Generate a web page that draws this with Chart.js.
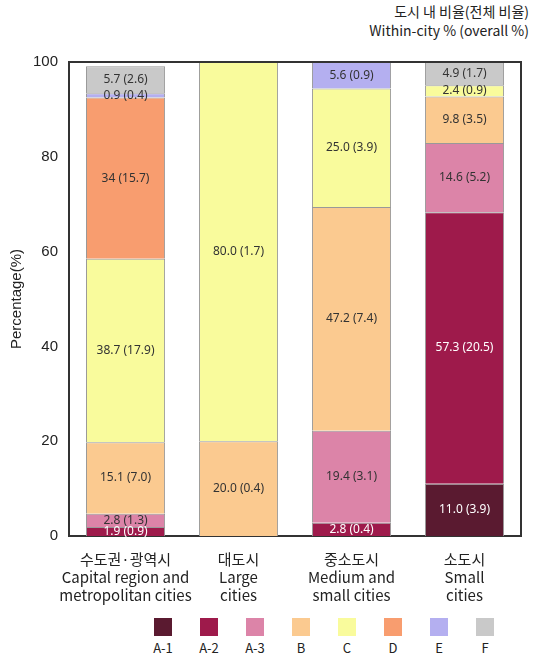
<!DOCTYPE html>
<html><head><meta charset="utf-8">
<script src="https://cdn.jsdelivr.net/npm/chart.js@4"></script>
<style>
body{margin:0;background:#fff;font-family:'Noto Sans CJK KR','Noto Sans',sans-serif;}
#wrap{position:absolute;left:0;top:50px;width:535px;height:560px;}
#title{position:absolute;right:6px;top:2px;text-align:right;font-size:14px;line-height:19px;color:#222;}
#legend{position:absolute;left:140px;top:618px;display:flex;}
.li{width:46px;text-align:center;font-size:13px;color:#222;}
.sw{width:18px;height:18px;margin:0 auto 2px;}
</style></head><body>
<div id="title">도시 내 비율(전체 비율)<br>Within-city % (overall %)</div>
<div id="wrap"><canvas id="c"></canvas></div>
<div id="legend"></div>
<script>
const categories = [
  ['수도권·광역시','Capital region and','metropolitan cities'],
  ['대도시','Large','cities'],
  ['중소도시','Medium and','small cities'],
  ['소도시','Small','cities']
];
const seriesNames = ['A-1','A-2','A-3','B','C','D','E','F'];
const colors = ['#5a1a30','#9e1a4b','#dc84a8','#fbca90','#f9fb9c','#f89d6f','#b4aff0','#c9c9c9'];
const a1 = [0, 0, 0, 11.0];
const a2 = [1.9, 0, 2.8, 57.3];
const a3 = [2.8, 0, 19.4, 14.6];
const b  = [15.1, 20.0, 47.2, 9.8];
const c  = [38.7, 80.0, 25.0, 2.4];
const d  = [34, 0, 0, 0];
const e  = [0.9, 0, 5.6, 0];
const f  = [5.7, 0, 0, 4.9];
const overall = [
  [null,null,null,'3.9'],
  ['0.9',null,'0.4','20.5'],
  ['1.3',null,'3.1','5.2'],
  ['7.0','0.4','7.4','3.5'],
  ['17.9','1.7','3.9','0.9'],
  ['15.7',null,null,null],
  ['0.4',null,'0.9',null],
  ['2.6',null,null,'1.7']
];
const yTicks = [0,20,40,60,80,100];
const series = [a1,a2,a3,b,c,d,e,f];

const labelPlugin = {
  id:'segLabels',
  afterDatasetsDraw(chart){
    const ctx = chart.ctx;
    ctx.save();
    ctx.font = "12px 'Noto Sans','Noto Sans CJK KR',sans-serif";
    ctx.textAlign='center'; ctx.textBaseline='middle';
    chart.data.datasets.forEach((ds,i)=>{
      chart.getDatasetMeta(i).data.forEach((bar,j)=>{
        const v = ds.data[j];
        if(!v) return;
        const txt = (i===5 ? String(v) : v.toFixed(1)) + ' (' + overall[i][j] + ')';
        ctx.fillStyle = (i<=1) ? '#fff' : '#333';
        ctx.fillText(txt, bar.x, (bar.y+bar.base)/2);
      });
    });
    ctx.restore();
  }
};

new Chart(document.getElementById('c'), {
  type:'bar',
  data:{
    labels:categories,
    datasets: series.map((s,i)=>({
      label:seriesNames[i], data:s, backgroundColor:colors[i],
      borderColor:'#999', borderWidth:1, categoryPercentage:0.7, barPercentage:1
    }))
  },
  options:{
    responsive:true, maintainAspectRatio:false, animation:false,
    layout:{padding:{left:4,right:14,top:10}},
    plugins:{legend:{display:false}, tooltip:{enabled:false}},
    scales:{
      x:{stacked:true, grid:{display:false}, border:{color:'#333',width:2},
        ticks:{color:'#222', autoSkip:false, font:{size:15, family:"'Noto Sans CJK KR','Noto Sans',sans-serif"}, maxRotation:0, padding:6}},
      y:{stacked:true, min:0, max:100, grid:{display:false}, border:{color:'#333',width:2},
        afterBuildTicks: ax => { ax.ticks = yTicks.map(v=>({value:v})); },
        ticks:{color:'#222', font:{size:15}},
        title:{display:true, text:'Percentage(%)', color:'#222', font:{size:15}}}
    }
  },
  plugins:[labelPlugin, {
    id:'frame',
    afterDraw(chart){
      const {ctx, chartArea:a} = chart;
      ctx.save(); ctx.strokeStyle='#333'; ctx.lineWidth=2;
      ctx.beginPath(); ctx.moveTo(a.left,a.top); ctx.lineTo(a.right,a.top); ctx.lineTo(a.right,a.bottom); ctx.stroke();
      ctx.restore();
    }
  }]
});

const lg = document.getElementById('legend');
seriesNames.forEach((n,i)=>{
  lg.insertAdjacentHTML('beforeend', `<div class="li"><div class="sw" style="background:${colors[i]}"></div>${n}</div>`);
});
</script>
</body></html>
